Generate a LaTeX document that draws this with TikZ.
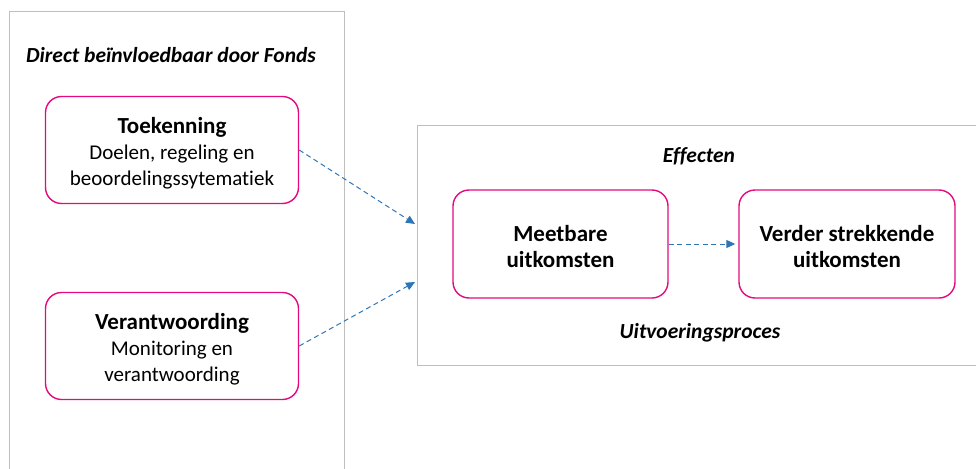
\documentclass[tikz,border=0pt]{standalone}
\usepackage{fontspec}
\setmainfont{Carlito}[Ligatures=NoCommon]
\usetikzlibrary{arrows.meta,positioning}

\definecolor{roze}{HTML}{E5097F}
\definecolor{rand}{HTML}{BFBFBF}
\definecolor{pijl}{HTML}{2E75B6}

\newcommand{\groot}[1]{{\fontsize{23}{26}\selectfont\bfseries #1}}
\newcommand{\boven}{\rule{0pt}{22pt}}

\tikzset{
    blok/.style={draw=roze, line width=1.4pt, rounded corners=16pt, fill=white, align=center,
        minimum width=253pt, minimum height=107pt, font=\fontsize{21}{26}\selectfont},
    kader/.style={draw=rand, line width=1pt},
    kop/.style={font=\fontsize{21.5}{26}\selectfont\bfseries\itshape},
    verband/.style={pijl, line width=1pt, dash pattern=on 5pt off 3.5pt, -{Triangle[length=9pt,width=8pt]}}
}

\begin{document}
\begin{tikzpicture}[x=1pt,y=-1pt]
    \useasboundingbox (0,0) rectangle (976,468);
%    \draw[step=50pt,gray!30,very thin] (0,0) grid (976,468);
    \draw [kader] (9,12) rectangle (344,480);
    \draw [kader] (417,125) rectangle (990,365);
    \node [kop] (direct) at (171,55) {Direct beïnvloedbaar door Fonds};
    \node [kop] (effecten) at (699,156) {Effecten};
    \node [kop] (proces) at (700,333) {Uitvoeringsproces};
    % linkerkant
    \node [blok] (toekenning) at (172,150) {\boven\groot{Toekenning}\\Doelen, regeling en\\beoordelingssytematiek};
    \node [blok] (verantwoording) at (172,346) {\boven\groot{Verantwoording}\\Monitoring en\\verantwoording};
    % rechterkant
    \node [blok, minimum width=215pt, minimum height=108pt] (meetbaar) at (560.5,244) {\boven\groot{Meetbare}\\\groot{uitkomsten}};
    \node [blok, minimum width=216pt, minimum height=108pt] (verder) at (847,244) {\boven\groot{Verder strekkende}\\\groot{uitkomsten}};
    \coordinate (inA) at (415,224);
    \coordinate (inB) at (415,282);
    \draw [verband] (toekenning.east) -- (inA);
    \draw [verband] (verantwoording.east) -- (inB);
    \draw [verband] (meetbaar.east) -- ([xshift=-3pt]verder.west);
\end{tikzpicture}
\end{document}
